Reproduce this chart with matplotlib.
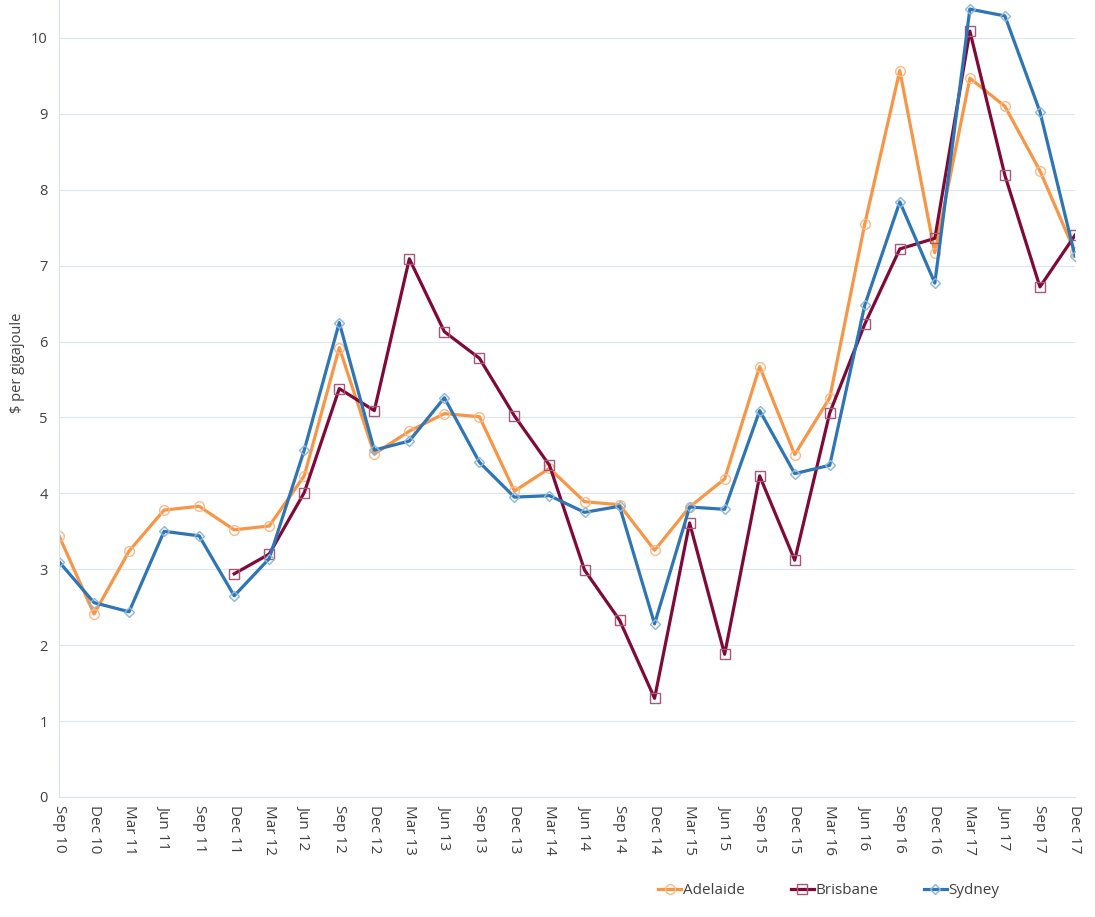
import numpy as np
import matplotlib
matplotlib.use("Agg")
import matplotlib.pyplot as plt

quarters = ['Sep 10', 'Dec 10', 'Mar 11', 'Jun 11', 'Sep 11', 'Dec 11', 'Mar 12', 'Jun 12',
            'Sep 12', 'Dec 12', 'Mar 13', 'Jun 13', 'Sep 13', 'Dec 13', 'Mar 14', 'Jun 14',
            'Sep 14', 'Dec 14', 'Mar 15', 'Jun 15', 'Sep 15', 'Dec 15', 'Mar 16', 'Jun 16',
            'Sep 16', 'Dec 16', 'Mar 17', 'Jun 17', 'Sep 17', 'Dec 17']

adelaide = [3.44, 2.41, 3.24, 3.78, 3.83, 3.52, 3.57, 4.23, 5.92, 4.52, 4.82, 5.05, 5.01, 4.03,
            4.33, 3.89, 3.85, 3.25, 3.82, 4.19, 5.67, 4.51, 5.26, 7.55, 9.57, 7.17, 9.47, 9.10,
            8.25, 7.18]
brisbane = [None, None, None, None, None, 2.94, 3.20, 4.01, 5.38, 5.09, 7.09, 6.13, 5.78, 5.02,
            4.37, 2.99, 2.33, 1.30, 3.61, 1.88, 4.23, 3.12, 5.06, 6.23, 7.22, 7.36, 10.09, 8.19,
            6.72, 7.40]
sydney = [3.10, 2.56, 2.44, 3.50, 3.44, 2.65, 3.14, 4.57, 6.25, 4.57, 4.69, 5.26, 4.41, 3.95,
          3.97, 3.75, 3.83, 2.28, 3.82, 3.79, 5.09, 4.26, 4.37, 6.48, 7.84, 6.77, 10.38, 10.29,
          9.03, 7.13]

plt.rcParams['font.family'] = ['Open Sans', 'DejaVu Sans']

fig = plt.figure(figsize=(10.95, 9.17), dpi=100)
ax = fig.add_axes([0.0539, 0.1309, 0.9278, 0.8691])

x = np.arange(len(quarters))
bris = np.array([np.nan if v is None else v for v in brisbane], dtype=float)

# series: (name, values, line colour, marker colour, marker)
series = [
    ('Adelaide', np.array(adelaide), '#F79646', '#FAB98A', 'o'),
    ('Brisbane', bris, '#7F0A37', '#A8587A', 's'),
    ('Sydney', np.array(sydney), '#2E75B6', '#8DB6DC', 'D'),
]
for name, vals, col, mcol, mk in series:
    ax.plot(x, vals, color=col, lw=2.3, marker=mk, markersize=7 if mk != 'D' else 5.5,
            markerfacecolor='none', markeredgecolor=mcol, markeredgewidth=1.0, label=name)

ax.set_xlim(0, len(quarters) - 1)
ax.set_ylim(0, 10.5)
ax.set_yticks(range(0, 11))
ax.set_xticks(x)
ax.set_xticklabels(quarters, rotation=-90, fontsize=11, color='#404040')
ax.tick_params(axis='y', labelsize=10.5, labelcolor='#404040', length=0, pad=8)
ax.tick_params(axis='x', length=0, pad=6)

ax.grid(axis='y', color='#DCE6F0', lw=0.8)
ax.set_axisbelow(True)
for s in ['top', 'right']:
    ax.spines[s].set_visible(False)
ax.spines['left'].set_color('#D6E2EE')
ax.spines['bottom'].set_color('#D6E2EE')

ax.set_ylabel(r'\$ per gigajoule', fontsize=10.5, color='#404040')
ax.yaxis.set_label_coords(-0.033, 0.545)

fig.legend(loc='center', bbox_to_anchor=(0.757, 0.029), ncol=3, frameon=False,
           fontsize=11, handlelength=1.5, handletextpad=0.1, columnspacing=3.0,
           labelcolor='#404040')

fig.savefig('out.png', dpi=100)
